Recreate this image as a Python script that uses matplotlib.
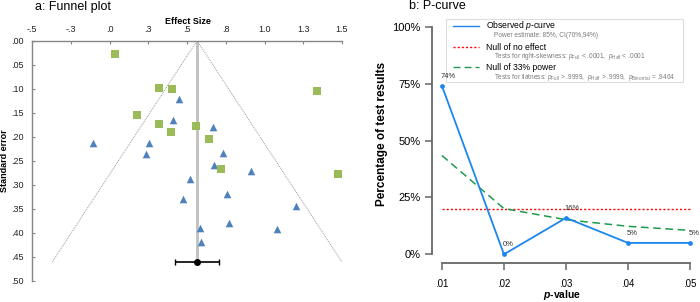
import numpy as np
import matplotlib
matplotlib.use('Agg')
import matplotlib.pyplot as plt
from matplotlib.lines import Line2D
from matplotlib.patches import Rectangle

plt.rcParams['font.family'] = ['Liberation Sans', 'DejaVu Sans']
plt.rcParams['mathtext.fontset'] = 'custom'
plt.rcParams['mathtext.rm'] = 'Liberation Sans'
plt.rcParams['mathtext.it'] = 'Liberation Sans:italic'
plt.rcParams['mathtext.bf'] = 'Liberation Sans:bold:italic'

# ---- funnel plot data ----
green_es = [0.033, 0.321, 0.401, 1.341, 0.180, 0.321, 0.395, 0.560, 0.640, 0.717, 1.476]
green_se = [0.027, 0.098, 0.100, 0.104, 0.155, 0.174, 0.189, 0.178, 0.204, 0.267, 0.278]
blue_es = [0.448, 0.408, 0.668, -0.108, 0.253, 0.233, 0.730, 0.672, 0.915, 0.517,
           0.474, 0.758, 1.203, 0.773, 0.586, 1.083, 0.592]
blue_se = [0.121, 0.164, 0.179, 0.212, 0.212, 0.235, 0.233, 0.258, 0.271, 0.287,
           0.330, 0.320, 0.344, 0.379, 0.390, 0.392, 0.418]
pooled_es = 0.565
pooled_ci = (0.423, 0.706)
funnel_se_max = 0.46
funnel_z = 2.03

es_ticks = [-0.5, -0.25, 0.0, 0.25, 0.5, 0.75, 1.0, 1.25, 1.5]
es_labels = ['-.5', '-.3', '.0', '.3', '.5', '.8', '1.0', '1.3', '1.5']
se_ticks = [0.0, 0.05, 0.10, 0.15, 0.20, 0.25, 0.30, 0.35, 0.40, 0.45, 0.50]
se_labels = ['.00', '.05', '.10', '.15', '.20', '.25', '.30', '.35', '.40', '.45', '.50']

# ---- p-curve data ----
p_values = [0.01, 0.02, 0.03, 0.04, 0.05]
p_labels = ['.01', '.02', '.03', '.04', '.05']
observed = [74, 0, 16, 5, 5]
null_none = [20, 20, 20, 20, 20]
null_33 = [43.4, 20.1, 15.2, 12.3, 10.5]
pct_ticks = [0, 25, 50, 75, 100]
pct_labels = ['0%', '25%', '50%', '75%', '100%']

W, H = 700, 302


def fx(x):
    return x / W


def fy(y):
    return 1 - y / H


fig = plt.figure(figsize=(7, 3.02), dpi=100)

# ================= a: funnel plot =================
ax = fig.add_axes([fx(32), fy(281), fx(342) - fx(32), fy(40.7) - fy(281)])
ax.set_xlim(-0.5, 1.5)
ax.set_ylim(0.5, 0.0)
gray = '#868686'
for s in ['right', 'bottom']:
    ax.spines[s].set_visible(False)
for s in ['left', 'top']:
    ax.spines[s].set_color(gray)
    ax.spines[s].set_linewidth(1.0)
ax.xaxis.tick_top()
ax.set_xticks(es_ticks)
ax.set_xticklabels(es_labels)
ax.set_yticks(se_ticks)
ax.set_yticklabels(se_labels)
ax.tick_params(direction='in', length=2.5, color=gray, labelsize=6.5, labelcolor='#222222')
ax.tick_params(axis='x', pad=5)
ax.tick_params(axis='y', pad=6)

# funnel lines
ax.plot([pooled_es - funnel_z * funnel_se_max, pooled_es, pooled_es + funnel_z * funnel_se_max],
        [funnel_se_max, 0, funnel_se_max], color='#9a9a9a', lw=0.7, ls=(0, (1, 1)), zorder=1)
ax.plot([pooled_es, pooled_es], [0, funnel_se_max], color='#c0c0c0', lw=2.0, zorder=1)

ax.scatter(blue_es, blue_se, marker='^', s=30, color='#4F81BD', linewidths=0, zorder=3, clip_on=False)
ax.scatter(green_es, green_se, marker='s', s=30, color='#9BBB59', linewidths=0, zorder=3, clip_on=False)

ax.errorbar([pooled_es], [funnel_se_max],
            xerr=[[pooled_es - pooled_ci[0]], [pooled_ci[1] - pooled_es]],
            fmt='o', color='black', ms=4, lw=1.2, capsize=2, capthick=1.0, zorder=4)

fig.text(fx(35), fy(7), 'a: Funnel plot', fontsize=9, ha='left', va='center')
fig.text(fx(188), fy(21), 'Effect Size', fontsize=6.5, fontweight='bold', ha='center', va='center')
fig.text(fx(5), fy(161), 'Standard error', fontsize=6.5, fontweight='bold',
         ha='center', va='center', rotation=90)

# ================= b: p-curve =================
bx = fig.add_axes([fx(432), fy(263.4), fx(700) - fx(432), fy(17.6) - fy(263.4)])
bx.set_zorder(6)
bx.patch.set_visible(False)
bx.set_xlim(0.0084, 0.0516)
bx.set_ylim(-4, 104)
for s in ['right', 'top']:
    bx.spines[s].set_visible(False)
axcol = '#666666'
for s in ['left', 'bottom']:
    bx.spines[s].set_color(axcol)
    bx.spines[s].set_linewidth(1.3)
bx.spines['left'].set_bounds(0, 100)
bx.spines['bottom'].set_bounds(0.01, 0.05)
bx.set_xticks(p_values)
bx.set_xticklabels(p_labels)
bx.set_yticks(pct_ticks)
bx.set_yticklabels(pct_labels)
bx.tick_params(axis='y', direction='out', length=5, width=1.1, color=axcol, labelsize=8, pad=3)
bx.tick_params(axis='x', direction='out', length=5, width=1.1, color=axcol, labelsize=7, pad=6)

bx.plot(p_values, null_none, color='red', lw=1.0, ls=(0, (1.5, 1.5)))
bx.plot(p_values, null_33, color='#1E9A4C', lw=1.1, ls=(0, (5, 3)))
bx.plot(p_values, observed, color='#1C86EE', lw=1.3, marker='o', ms=2.4)

for xv, yv in zip(p_values, observed):
    bx.annotate(f'{yv}%', (xv, yv), xytext=(-1, 4.5), textcoords='offset points',
                fontsize=5.5, color='#333333', ha='left', va='bottom', annotation_clip=False)

fig.text(fx(409), fy(6), 'b: P-curve', fontsize=9, ha='left', va='center')
fig.text(fx(382), fy(134), 'Percentage of test results', fontsize=8.5, fontweight='bold',
         ha='center', va='center', rotation=90)
fig.text(fx(562), fy(295), r'$\mathbf{p}$-value', fontsize=7.5, fontweight='bold',
         ha='center', va='center')

# legend box drawn by hand
fig.patches.append(Rectangle((fx(445.7), fy(82.3)), fx(683) - fx(445.7), fy(19.3) - fy(82.3),
                             transform=fig.transFigure, fill=True, facecolor='white',
                             edgecolor='#dddddd', lw=0.8, zorder=5))
leg_rows = [
    (26, '#1C86EE', '-', 'Observed $p$-curve', 'Power estimate: 85%, CI(70%,94%)'),
    (47.3, 'red', (0, (1.5, 1.5)), 'Null of no effect',
     r'Tests for right-skewness: $p_{\mathrm{Full}}$ < .0001,  $p_{\mathrm{Half}}$ < .0001'),
    (67.3, '#1E9A4C', (0, (5, 3)), 'Null of 33% power',
     r'Tests for flatness: $p_{\mathrm{Full}}$ > .9999,  $p_{\mathrm{Half}}$ > .9999,  '
     r'$p_{\mathrm{Binomial}}$ = .9464'),
]
for y, col, ls, main, sub in leg_rows:
    fig.lines.append(Line2D([fx(453), fx(479)], [fy(y), fy(y)], transform=fig.transFigure,
                            color=col, ls=ls, lw=1.0, zorder=5.5))
    fig.text(fx(485.7), fy(y), main, fontsize=6.2, ha='left', va='center', zorder=5.5)
    fig.text(fx(494.3), fy(y + 9.7), sub, fontsize=4.7, color='#7a7a7a', ha='left',
             va='center', zorder=5.5)

fig.savefig('out.png', dpi=100)
